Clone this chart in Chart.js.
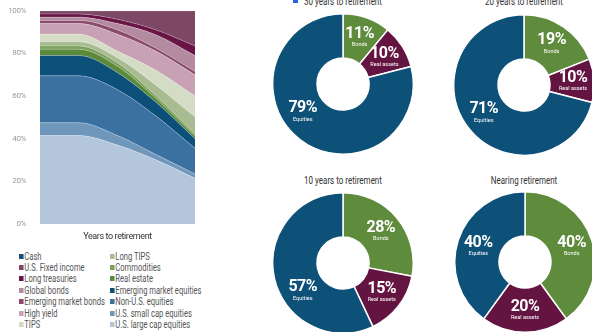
<!DOCTYPE html>
<html>
<head>
<meta charset="utf-8">
<script src="https://cdn.jsdelivr.net/npm/chart.js@4.4.1/dist/chart.umd.min.js"></script>
<style>
  body { margin: 0; width: 592px; height: 332px; overflow: hidden; background: #fff; font-family: Roboto, sans-serif; }
  #areaChart { position: absolute; left: 0; top: 0; }
  .pie { position: absolute; }
  .ttl { position: absolute; width: 170px; text-align: center; font-size: 10px; line-height: 12px; color: #333;
         white-space: nowrap; transform: scaleX(0.8); transform-origin: center; }
  .lg { position: absolute; font-size: 10px; line-height: 11px; color: #555; white-space: nowrap;
        transform: scaleX(0.76); transform-origin: left center; }
  .lg i { display: inline-block; width: 5.5px; height: 5px; margin-right: 1.5px; vertical-align: 1px; }
  #mark { position: absolute; left: 293px; top: 0; width: 5px; height: 3px; background: #2b63de; }
</style>
</head>
<body>
<canvas id="areaChart" width="198" height="242"></canvas>
<div id="legend"></div>
<div id="mark"></div>
<canvas class="pie" id="pie0" width="142" height="142" style="left:272px;top:13px"></canvas>
<canvas class="pie" id="pie1" width="142" height="142" style="left:453px;top:14px"></canvas>
<canvas class="pie" id="pie2" width="142" height="142" style="left:272px;top:192px"></canvas>
<canvas class="pie" id="pie3" width="142" height="142" style="left:454px;top:191px"></canvas>
<script>
// glide path, years to retirement
const years = ['40', '30', '20', '10', '0'];

// allocation (%) per asset class, bottom of the stack first
const largeCap    = [41.5, 41.5, 37, 30, 21.5];
const smallCap    = [6, 6, 4.5, 2.5, 2];
const nonUS       = [22, 22, 21.5, 18, 12];
const emEquities  = [9.5, 9.5, 8, 6.5, 4.5];
const realEstate  = [3, 3, 3, 1.8, 1.2];
const commodities = [1.5, 1.5, 1.5, 1.2, 1];
const longTips    = [2, 2, 2.5, 5, 8];
const tips        = [3.5, 3.5, 3, 7, 9.8];
const highYield   = [5, 5, 8, 9, 10];
const emBonds     = [1.5, 1.5, 2, 1.4, 1.5];
const globalBonds = [1.5, 1.5, 3, 6.3, 7.5];
const longTreas   = [1.5, 1.5, 2, 2.3, 4.5];
const usFixed     = [1.5, 1.5, 4, 9, 16.5];
const cash        = [0, 0, 0, 0, 0];

const yTicks = [0, 20, 40, 60, 80, 100];

const stack = [
  { name: 'U.S. large cap equities', values: largeCap, color: '#b3c6db' },
  { name: 'U.S. small cap equities', values: smallCap, color: '#6f97bc' },
  { name: 'Non-U.S. equities', values: nonUS, color: '#3b71a0' },
  { name: 'Emerging market equities', values: emEquities, color: '#0c4f79' },
  { name: 'Real estate', values: realEstate, color: '#5b8a3a' },
  { name: 'Commodities', values: commodities, color: '#7c9f5a' },
  { name: 'Long TIPS', values: longTips, color: '#a9bc91' },
  { name: 'TIPS', values: tips, color: '#d4dcc5' },
  { name: 'High yield', values: highYield, color: '#c8a2b4' },
  { name: 'Emerging market bonds', values: emBonds, color: '#8b4a6b' },
  { name: 'Global bonds', values: globalBonds, color: '#b38a9f' },
  { name: 'Long treasuries', values: longTreas, color: '#681545' },
  { name: 'U.S. Fixed income', values: usFixed, color: '#7d4766' },
  { name: 'Cash', values: cash, color: '#15507a' }
];

// donut snapshots
const pieTitles  = ['30 years to retirement', '20 years to retirement', '10 years to retirement', 'Nearing retirement'];
const pieClasses = ['Bonds', 'Real assets', 'Equities'];
const bondsPct   = [11, 19, 28, 40];
const realPct    = [10, 10, 15, 20];
const equityPct  = [79, 71, 57, 40];
const pieColors  = ['#5f8b3d', '#641441', '#0d5078'];

// tighter letter spacing for the axis text
const narrowText = {
  id: 'narrowText',
  beforeDraw(chart) { chart.ctx.letterSpacing = '-0.4px'; }
};

new Chart(document.getElementById('areaChart'), {
  type: 'line',
  data: {
    labels: years,
    datasets: stack.map((s, i) => ({
      label: s.name,
      data: s.values,
      backgroundColor: s.color,
      borderColor: 'rgba(255,255,255,0.45)',
      borderWidth: 0.6,
      pointRadius: 0,
      fill: i === 0 ? 'origin' : '-1',
      cubicInterpolationMode: 'monotone'
    }))
  },
  options: {
    responsive: false,
    animation: false,
    layout: { padding: { top: 4, right: 3, left: 0, bottom: 0 } },
    plugins: { legend: { display: false }, tooltip: { enabled: false } },
    scales: {
      x: {
        offset: false,
        grid: { display: false },
        border: { display: false },
        ticks: { display: false },
        title: { display: true, text: 'Years to retirement', color: '#333',
                 font: { family: 'Roboto', size: 9 }, padding: { top: 3, bottom: 0 } },
        afterFit(s) { s.height = 18; }
      },
      y: {
        stacked: true,
        min: 0,
        max: 100,
        afterBuildTicks(s) { s.ticks = yTicks.map(v => ({ value: v })); },
        ticks: { callback: v => v + '%', color: '#9a9a9a', font: { family: 'Roboto', size: 8 }, padding: 6 },
        grid: { display: false },
        border: { display: false },
        afterFit(s) { s.width = 40; }
      }
    }
  },
  plugins: [narrowText]
});

// legend: two columns, top of the stack first
const legend = document.getElementById('legend');
stack.slice().reverse().forEach((s, i) => {
  const col = Math.floor(i / 7), row = i % 7;
  const el = document.createElement('div');
  el.className = 'lg';
  el.style.left = (col ? 110 : 19) + 'px';
  el.style.top = (250.5 + row * 11.45) + 'px';
  el.innerHTML = '<i style="background:' + s.color + '"></i>' + s.name;
  legend.appendChild(el);
});

// percentage and class name inside each slice
const sliceLabels = {
  id: 'sliceLabels',
  afterDatasetsDraw(chart) {
    const ctx = chart.ctx;
    const ds = chart.data.datasets[0];
    const total = ds.data.reduce((a, b) => a + b, 0);
    chart.getDatasetMeta(0).data.forEach((arc, i) => {
      const p = arc.getProps(['x', 'y', 'startAngle', 'endAngle', 'innerRadius', 'outerRadius'], true);
      let a = (p.startAngle + p.endAngle) / 2;
      // big slices keep their label on the lower left of the ring
      if (ds.data[i] / total > 0.5) a = Math.PI * 145 / 180;
      const r = (p.innerRadius + p.outerRadius) / 2 + 1;
      const lx = p.x + Math.cos(a) * r, ly = p.y + Math.sin(a) * r;
      ctx.save();
      ctx.fillStyle = '#fff';
      ctx.textAlign = 'center';
      ctx.textBaseline = 'middle';
      ctx.letterSpacing = '-0.5px';
      ctx.font = 'bold 16px Roboto';
      ctx.fillText(ds.data[i] + '%', lx, ly - 4);
      ctx.letterSpacing = '0px';
      ctx.font = '5.5px Roboto';
      ctx.fillText(chart.data.labels[i], lx, ly + 7);
      ctx.restore();
    });
  }
};

const titlePos = [[343, -4.5], [524, -4.5], [343, 175], [524, 175]];
pieTitles.forEach((t, k) => {
  const el = document.createElement('div');
  el.className = 'ttl';
  el.style.left = (titlePos[k][0] - 85) + 'px';
  el.style.top = titlePos[k][1] + 'px';
  el.textContent = t;
  document.body.appendChild(el);

  new Chart(document.getElementById('pie' + k), {
    type: 'doughnut',
    data: {
      labels: pieClasses,
      datasets: [{
        data: [bondsPct[k], realPct[k], equityPct[k]],
        backgroundColor: pieColors,
        borderColor: '#fff',
        borderWidth: 1.5
      }]
    },
    options: {
      responsive: false,
      animation: false,
      cutout: '37%',
      layout: { padding: 0 },
      plugins: { legend: { display: false }, tooltip: { enabled: false } }
    },
    plugins: [sliceLabels]
  });
});
</script>
</body>
</html>
